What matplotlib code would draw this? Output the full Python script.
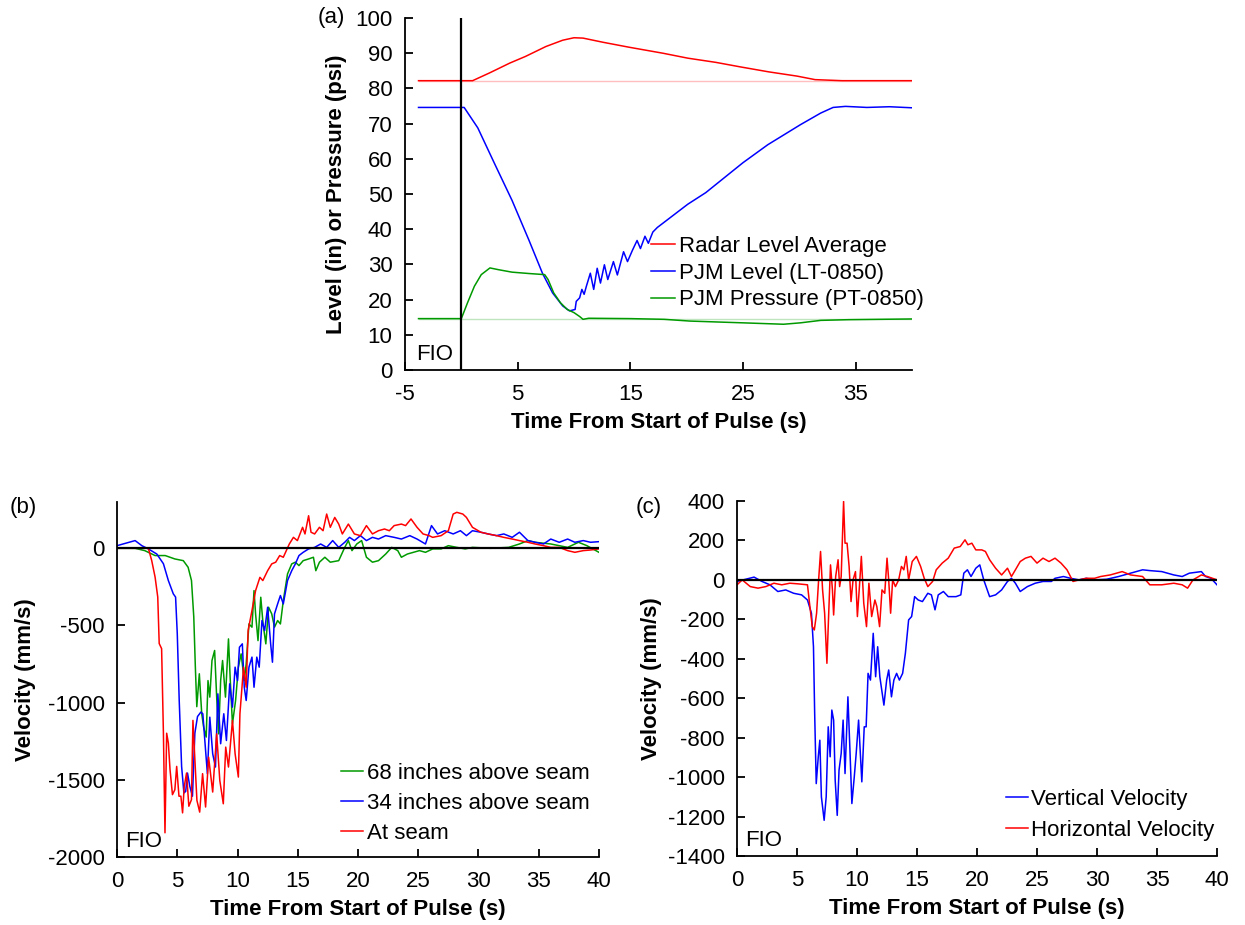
import matplotlib
matplotlib.use('Agg')
import matplotlib.pyplot as plt

plt.rcParams['font.family'] = ['Liberation Sans', 'DejaVu Sans']
plt.rcParams['font.size'] = 16
plt.rcParams['axes.unicode_minus'] = False

RED = '#ff0000'
BLUE = '#0000ff'
GREEN = '#009a00'
FS = 16

# ---- panel (a): level / pressure ----
radar_t = [-3.8, 0.0, 1.0, 2.5, 4.3, 5.7, 7.5, 9.0, 10.0, 10.8, 12.6, 14.9, 17.9, 20.1, 22.6, 24.8, 27.3, 29.8, 31.4, 33.8, 40.0]
radar_v = [82.2, 82.2, 82.2, 84.4, 87.2, 89.1, 91.9, 93.7, 94.4, 94.3, 93.1, 91.7, 90.0, 88.6, 87.4, 86.1, 84.7, 83.5, 82.5, 82.2, 82.2]

lt_t = [-3.8, 0.0, 0.25, 1.46, 2.97, 4.5, 6.0, 7.2, 8.1, 9.0, 9.6, 10.1, 10.2, 10.5, 10.7, 10.9, 11.1, 11.45, 11.75,
        12.06, 12.35, 12.7, 13.0, 13.5, 13.85, 14.4, 14.75, 15.2, 15.6, 15.9, 16.3, 16.6, 17.0, 17.4, 20.1, 21.7, 25.0,
        27.2, 30.1, 31.9, 33.0, 34.1, 36.0, 38.0, 40.0]
lt_v = [74.6, 74.6, 74.6, 68.8, 58.5, 48.2, 36.9, 27.5, 21.9, 18.2, 16.8, 17.2, 19.5, 20.5, 22.9, 21.5, 23.8, 27.5, 22.9,
        28.9, 24.7, 29.9, 25.7, 30.8, 27.0, 33.6, 30.8, 34.1, 36.8, 34.5, 38.0, 36.0, 39.2, 40.5, 47.1, 50.4, 58.9,
        64.0, 69.7, 73.0, 74.6, 74.9, 74.6, 74.8, 74.5]

pt_t = [-3.8, 0.0, 0.55, 1.16, 1.77, 2.54, 3.3, 4.5, 6.05, 7.4, 7.7, 8.2, 8.8, 9.4, 10.0, 10.5, 10.8, 11.3, 15.0,
        18.0, 20.3, 25.0, 28.6, 30.1, 31.9, 34.4, 40.0]
pt_v = [14.6, 14.6, 19.1, 23.8, 27.1, 29.0, 28.5, 27.8, 27.4, 27.1, 25.7, 21.9, 19.1, 17.2, 16.3, 15.2, 14.4, 14.7, 14.6,
        14.4, 13.9, 13.4, 13.0, 13.4, 14.1, 14.3, 14.5]

radar_base = 82.2
pt_base = 14.6

# ---- panel (b): velocity at three heights ----
b68_t = [0.0, 1.5, 2.3, 3.16, 4.0, 4.8, 5.5, 5.9, 6.18, 6.37, 6.5, 6.62, 6.83, 7.03, 7.19, 7.4, 7.55, 7.7, 7.88, 8.1,
         8.27, 8.43, 8.6, 8.76, 9.0, 9.25, 9.4, 9.58, 9.84, 10.07, 10.3, 10.56, 10.72, 10.95, 11.2, 11.37, 11.5, 11.7,
         11.93, 12.12, 12.35, 12.58, 12.84, 13.07, 13.33, 13.56, 13.8, 14.15, 14.5, 14.8, 15.1, 15.45, 15.9, 16.3,
         16.5, 16.8, 17.25, 17.7, 18.4, 18.9, 19.2, 19.5, 19.9, 20.3, 20.7, 21.2, 21.7, 22.3, 22.8, 23.3, 23.6, 24.1,
         24.6, 25.1, 25.6, 26.2, 26.9, 27.5, 28.2, 28.9, 29.5, 31.0, 32.5, 33.4, 34.1, 34.7, 36.0, 37.4, 38.3, 39.0, 40.0]
b68_v = [0, 0, -15, -47, -47, -69, -80, -123, -209, -445, -768, -1026, -813, -1072, -1159, -1223, -857, -964, -727, -662,
         -964, -1202, -857, -727, -964, -587, -857, -1137, -986, -770, -684, -857, -749, -490, -511, -274, -425, -598,
         -317, -490, -619, -382, -425, -511, -468, -490, -339, -166, -101, -90, -112, -80, -69, -58,
         -145, -90, -58, -90, -80, 6, 50, -15, 28, 50, -58, -90, -80, -37, 6, -15, -58, -37,
         -26, -15, -26, -4, -4, 17, 6, -4, 6, 0, 6, 28, 50, 39, 28, 6, 39, 17, -26]

b34_t = [0.0, 1.5, 2.06, 2.6, 3.3, 3.85, 4.26, 4.67, 4.86, 5.0, 5.16, 5.36, 5.55, 5.7, 5.85, 6.04, 6.26, 6.46, 6.68,
         6.96, 7.12, 7.35, 7.5, 7.7, 7.94, 8.17, 8.37, 8.6, 8.86, 9.08, 9.35, 9.58, 9.8, 10.0, 10.16, 10.4, 10.56,
         10.72, 10.95, 11.2, 11.37, 11.6, 11.8, 12.03, 12.25, 12.5, 12.75, 12.9, 13.07, 13.33, 13.56, 13.8, 14.15,
         14.5, 14.8, 15.1, 15.45, 15.9, 16.4, 16.9, 17.4, 17.9, 18.4, 18.9, 19.3, 19.7, 20.2, 20.7, 21.2, 21.7, 22.3,
         23.0, 23.6, 24.3, 24.9, 25.6, 26.1, 26.6, 27.2, 27.9, 28.5, 29.0, 29.5, 30.2, 30.8, 31.5, 32.1, 32.8, 33.4,
         34.1, 34.7, 35.4, 36.0, 36.7, 37.4, 38.0, 38.7, 39.3, 40.0]
b34_v = [17, 50, 17, -4, -37, -100, -209, -295, -316, -553, -983, -1413, -1585, -1575, -1456, -1542, -1606, -1198, -1090,
         -1061, -1072, -1310, -1460, -1094, -1331, -1417, -943, -1266, -1072, -1245, -878, -1029, -770, -857, -641, -619, -900,
         -986, -770, -705, -900, -705, -770, -468, -533, -382, -619, -738, -425, -360, -306, -360, -209,
         -145, -101, -47, -26, -4, 6, 28, 6, 50, 6, 39, 71, 50, 82, 50, 71, 60, 82,
         71, 60, 82, 60, 28, 147, 93, 114, 93, 114, 82, 114, 104, 93, 82, 93, 71, 104,
         50, 39, 28, 60, 39, 60, 39, 50, 39, 43]

bseam_t = [0.0, 2.6, 2.88, 3.16, 3.38, 3.5, 3.7, 3.85, 3.98, 4.12, 4.26, 4.4, 4.6, 4.8, 4.95, 5.14, 5.3, 5.44, 5.58,
           5.77, 5.96, 6.18, 6.3, 6.63, 6.86, 7.1, 7.35, 7.6, 7.94, 8.27, 8.53, 8.82, 9.02, 9.25, 9.58, 9.8, 10.07,
           10.2, 10.5, 10.72, 10.88, 11.2, 11.5, 11.86, 12.1, 12.5, 12.84, 13.17, 13.5, 13.8, 14.3, 14.64, 14.97,
           15.4, 15.6, 15.9, 16.1, 16.4, 16.8, 17.1, 17.4, 17.7, 18.07, 18.4, 18.7, 19.2, 19.7, 20.2, 20.7, 21.2,
           21.7, 22.2, 22.6, 23.0, 23.6, 23.95, 24.4, 24.9, 25.4, 25.9, 26.2, 26.9, 27.5, 27.9, 28.2, 28.7, 29.0,
           29.5, 30.2, 30.8, 31.5, 32.1, 32.8, 33.4, 34.1, 34.7, 35.4, 36.0, 36.7, 37.4, 38.0, 38.7, 39.3, 40.0]
bseam_v = [0, 0, -80, -187, -316, -617, -650, -1198, -1843, -1198, -1262, -1435, -1596, -1564, -1413, -1606, -1606, -1714, -1542,
           -1456, -1671, -1628, -1115, -1633, -1709, -1460, -1676, -1353, -1579, -1202, -1504, -1655, -1288, -1417, -1115, -1331, -1482,
           -1072, -770, -900, -533, -403, -274, -188, -209, -145, -101, -90, -47, -58, 28, 71, 50,
           136, 93, 211, 104, 93, 136, 114, 222, 136, 200, 157, 93, 157, 93, 82, 147, 93,
           114, 125, 114, 147, 157, 147, 190, 136, 93, 82, 71, 82, 114, 222, 233, 222, 200,
           136, 104, 93, 82, 71, 60, 50, 39, 28, 17, 6, 6, -15, -26, -15, -11, -4]

# ---- panel (c): vertical / horizontal velocity ----
cv_t = [0.0, 1.42, 2.08, 2.74, 3.4, 4.06, 4.72, 5.38, 5.87, 6.2, 6.37, 6.47, 6.6, 6.77, 6.9, 7.03, 7.26, 7.43, 7.6,
        7.76, 7.9, 8.05, 8.18, 8.35, 8.5, 8.68, 8.84, 9.0, 9.24, 9.4, 9.57, 9.77, 9.93, 10.13, 10.4, 10.6, 10.76,
        10.92, 11.12, 11.35, 11.55, 11.72, 11.9, 12.24, 12.47, 12.64, 12.87, 13.07, 13.3, 13.53, 13.8, 14.03, 14.3,
        14.55, 14.8, 15.1, 15.45, 15.9, 16.2, 16.5, 16.77, 17.2, 17.6, 18.25, 18.65, 18.9, 19.2, 19.5, 19.9, 20.23,
        20.56, 21.05, 21.55, 22.05, 22.54, 22.87, 23.2, 23.6, 24.2, 24.85, 25.5, 26.2, 26.5, 27.2, 27.8, 28.5, 29.1,
        29.8, 30.8, 31.8, 32.8, 33.8, 34.4, 35.4, 36.4, 37.1, 37.7, 38.7, 39.05, 39.5, 40.0]
cv_v = [-8, 14, -8, -25, -59, -51, -68, -76, -102, -169, -339, -677, -1033, -897, -813, -1100, -1219, -1100, -745,
        -897, -660, -711, -1016, -1194, -965, -880, -711, -982, -593, -847, -1134, -999, -880, -711, -1024, -745, -745,
        -474, -508, -271, -491, -339, -491, -635, -508, -457, -593, -508, -474, -508, -474, -372, -203,
        -186, -85, -102, -110, -68, -76, -152, -76, -59, -85, -85, -76, 34, 51, 17, 59, 76,
        0, -85, -76, -51, -8, 8, -17, -59, -34, -17, -8, -8, 8, 17, 8, 0, 8,
        0, 3, 17, 34, 51, 47, 42, 25, 17, 34, 42, 17, 8, -25]

ch_t = [0.0, 0.43, 1.1, 1.75, 2.4, 3.07, 3.73, 4.4, 5.05, 5.87, 6.04, 6.27, 6.44, 6.63, 6.8, 6.96, 7.13, 7.3, 7.49,
        7.62, 7.79, 7.95, 8.05, 8.22, 8.42, 8.55, 8.68, 8.88, 9.0, 9.17, 9.34, 9.5, 9.67, 9.87, 10.03, 10.2, 10.36,
        10.56, 10.79, 10.99, 11.22, 11.49, 11.65, 11.88, 12.08, 12.31, 12.5, 12.64, 12.8, 12.97, 13.2, 13.47, 13.7,
        13.9, 14.1, 14.3, 14.6, 14.95, 15.3, 15.6, 15.9, 16.3, 16.6, 17.1, 17.6, 18.1, 18.6, 19.0, 19.24, 19.57,
        19.9, 20.4, 20.7, 21.05, 21.55, 22.05, 22.54, 22.87, 23.2, 23.6, 24.03, 24.5, 25.0, 25.5, 26.0, 26.5, 27.0,
        27.5, 28.0, 28.5, 29.1, 29.8, 30.3, 31.1, 32.1, 32.8, 33.8, 34.4, 35.4, 36.4, 37.1, 37.55, 38.0, 38.7,
        39.2, 40.0]
ch_v = [-25, 0, -34, -42, -34, -17, -25, -17, -20, -25, -118, -237, -254, -169, 0, 144, -51, -169, -423,
        -203, 76, -51, -178, 17, 102, -34, 17, 398, 186, 186, 68, -110, 0, 42, -186, -34, 119,
        -118, -237, -17, -186, -102, -135, -237, -51, -68, 110, 0, -169, 0, -34, 0, 68,
        51, 119, 0, 93, 119, 68, 8, -34, -8, 51, 85, 110, 161, 169, 203, 178, 186,
        152, 152, 144, 102, 59, 25, 59, 17, 51, 93, 110, 119, 85, 110, 93, 110, 85,
        51, -8, 0, 8, 8, 17, 25, 42, 25, 17, -25, -25, -17, -25, -42, 0, 25,
        17, 0]

fig = plt.figure(figsize=(12.45, 9.25), dpi=100)
ax_a = fig.add_axes([0.3253, 0.600, 0.4072, 0.3805])
ax_b = fig.add_axes([0.0940, 0.0735, 0.3871, 0.3838])
ax_c = fig.add_axes([0.5920, 0.0746, 0.3855, 0.3838])

for ax in (ax_a, ax_b, ax_c):
    for s in ('top', 'right'):
        ax.spines[s].set_visible(False)
    for s in ('left', 'bottom'):
        ax.spines[s].set_linewidth(1.3)
    ax.tick_params(direction='in', length=6, width=1.3, labelsize=FS)
    ax.tick_params(axis='x', pad=10)
    ax.tick_params(axis='y', pad=9)

# (a)
ax_a.plot([-3.8, 40], [radar_base, radar_base], color=RED, lw=1.0, alpha=0.25)
ax_a.plot([-3.8, 40], [pt_base, pt_base], color=GREEN, lw=1.0, alpha=0.25)
ax_a.plot(radar_t, radar_v, color=RED, lw=1.1, label='Radar Level Average')
ax_a.plot(lt_t, lt_v, color=BLUE, lw=1.1, label='PJM Level (LT-0850)')
ax_a.plot(pt_t, pt_v, color=GREEN, lw=1.1, label='PJM Pressure (PT-0850)')
ax_a.axvline(0, color='black', lw=1.6)
ax_a.set_xlim(-5, 40)
ax_a.set_ylim(0, 100)
ax_a.set_xticks(range(-5, 41, 10))
ax_a.set_yticks(range(0, 101, 10))
ax_a.set_xlabel('Time From Start of Pulse (s)', fontsize=FS, fontweight='bold', labelpad=5)
ax_a.set_ylabel('Level (in) or Pressure (psi)', fontsize=FS, fontweight='bold', labelpad=6)
ax_a.text(0.022, 0.015, 'FIO', transform=ax_a.transAxes, fontsize=FS, ha='left', va='bottom')
ax_a.legend(loc='upper left', bbox_to_anchor=(0.485, 0.38), frameon=False, fontsize=FS,
            handlelength=1.1, handletextpad=0.15, labelspacing=0.25, borderpad=0, borderaxespad=0)
fig.text(318 / 1245, 1 - 18 / 925, '(a)', fontsize=FS, ha='left', va='center')

# (b)
ax_b.plot(b68_t, b68_v, color=GREEN, lw=1.1, label='68 inches above seam')
ax_b.plot(b34_t, b34_v, color=BLUE, lw=1.1, label='34 inches above seam')
ax_b.plot(bseam_t, bseam_v, color=RED, lw=1.1, label='At seam')
ax_b.axhline(0, color='black', lw=1.6)
ax_b.set_xlim(0, 40)
ax_b.set_ylim(-2000, 300)
ax_b.set_xticks(range(0, 41, 5))
ax_b.set_yticks(range(-2000, 1, 500))
ax_b.set_xlabel('Time From Start of Pulse (s)', fontsize=FS, fontweight='bold', labelpad=5)
ax_b.set_ylabel('Velocity (mm/s)', fontsize=FS, fontweight='bold', labelpad=8)
ax_b.text(0.017, 0.015, 'FIO', transform=ax_b.transAxes, fontsize=FS, ha='left', va='bottom')
ax_b.legend(loc='upper left', bbox_to_anchor=(0.465, 0.265), frameon=False, fontsize=FS,
            handlelength=1.0, handletextpad=0.15, labelspacing=0.4, borderpad=0, borderaxespad=0)
fig.text(10 / 1245, 1 - 507 / 925, '(b)', fontsize=FS, ha='left', va='center')

# (c)
ax_c.plot(cv_t, cv_v, color=BLUE, lw=1.1, label='Vertical Velocity')
ax_c.plot(ch_t, ch_v, color=RED, lw=1.1, label='Horizontal Velocity')
ax_c.axhline(0, color='black', lw=1.6)
ax_c.set_xlim(0, 40)
ax_c.set_ylim(-1400, 400)
ax_c.set_xticks(range(0, 41, 5))
ax_c.set_yticks(range(-1400, 401, 200))
ax_c.set_xlabel('Time From Start of Pulse (s)', fontsize=FS, fontweight='bold', labelpad=5)
ax_c.set_ylabel('Velocity (mm/s)', fontsize=FS, fontweight='bold', labelpad=4)
ax_c.text(0.017, 0.015, 'FIO', transform=ax_c.transAxes, fontsize=FS, ha='left', va='bottom')
ax_c.legend(loc='upper left', bbox_to_anchor=(0.56, 0.188), frameon=False, fontsize=FS,
            handlelength=1.0, handletextpad=0.15, labelspacing=0.45, borderpad=0, borderaxespad=0)
fig.text(636 / 1245, 1 - 507 / 925, '(c)', fontsize=FS, ha='left', va='center')

fig.savefig('out.png', dpi=100)
